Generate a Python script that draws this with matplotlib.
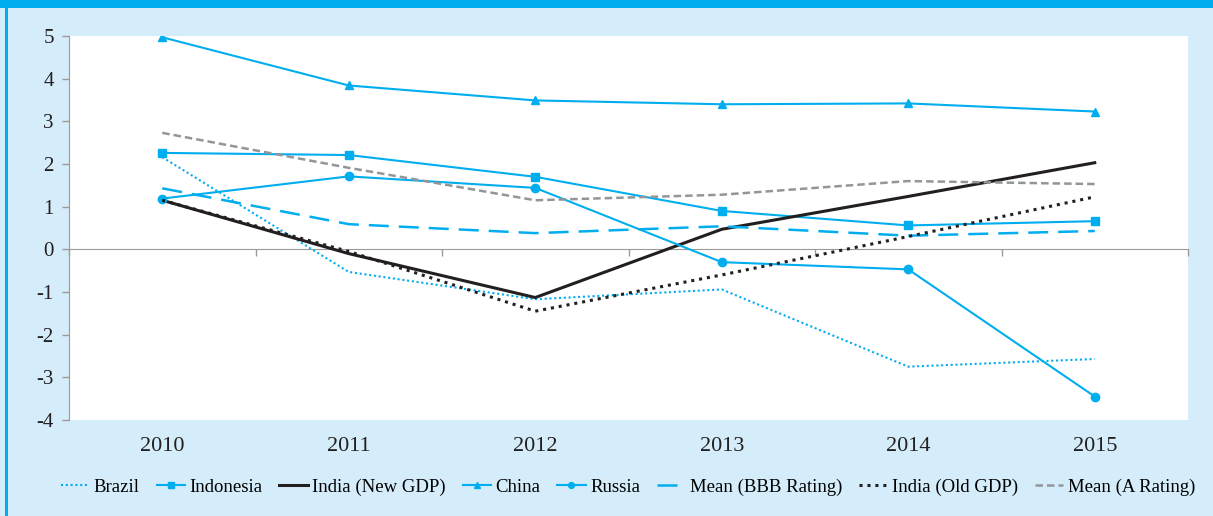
import matplotlib.pyplot as plt
from matplotlib.patches import Rectangle

plt.rcParams['font.family'] = ['Liberation Serif', 'DejaVu Serif']
plt.rcParams['axes.unicode_minus'] = False

years = ['2010', '2011', '2012', '2013', '2014', '2015']

brazil = [2.16, -0.53, -1.17, -0.94, -2.75, -2.57]
indonesia = [2.26, 2.21, 1.70, 0.90, 0.56, 0.66]
india_new = [1.15, -0.10, -1.13, 0.47, 1.24, 2.03]
china = [4.97, 3.84, 3.49, 3.40, 3.42, 3.23]
russia = [1.19, 1.71, 1.44, -0.30, -0.47, -3.45]
mean_bbb = [1.43, 0.59, 0.38, 0.54, 0.32, 0.43]
india_old = [1.15, -0.05, -1.45, -0.60, 0.30, 1.23]
mean_a = [2.73, 1.91, 1.15, 1.28, 1.60, 1.53]

blue = '#00aeef'
black = '#231f20'
gray = '#939598'
bg = '#d5edfa'

fig = plt.figure(figsize=(12.13, 5.16), dpi=100, facecolor=bg)
ax = fig.add_axes([69 / 1213, 1 - 420 / 516, 1119 / 1213, 384 / 516])
ax.set_facecolor('white')

# frame decorations of the box
fig.patches.append(Rectangle((0, 1 - 8 / 516), 1, 8 / 516, transform=fig.transFigure,
                             facecolor=blue, edgecolor='none'))
fig.patches.append(Rectangle((5 / 1213, 0), 3 / 1213, 1 - 8 / 516, transform=fig.transFigure,
                             facecolor=blue, edgecolor='none'))

x = list(range(len(years)))

ax.plot(x, brazil, color=blue, lw=1.5, linestyle=(0, (1, 1.3)), label='Brazil')
ax.plot(x, indonesia, color=blue, lw=1.5, marker='s', ms=6, label='Indonesia')
ax.plot(x, india_new, color=black, lw=2.2, label='India (New GDP)')
ax.plot(x, china, color=blue, lw=1.5, marker='^', ms=6, label='China')
ax.plot(x, russia, color=blue, lw=1.5, marker='o', ms=6, label='Russia')
ax.plot(x, mean_bbb, color=blue, lw=1.8, linestyle=(0, (8, 4)), label='Mean (BBB Rating)')
ax.plot(x, india_old, color=black, lw=2.2, linestyle=(0, (1, 1.6)), label='India (Old GDP)')
ax.plot(x, mean_a, color=gray, lw=1.8, linestyle=(0, (3, 1.6)), label='Mean (A Rating)')

ax.set_xlim(-0.5, 5.5)
ax.set_ylim(-4, 5)
ax.set_yticks(range(-4, 6))

for s in ['top', 'right', 'bottom']:
    ax.spines[s].set_visible(False)
ax.spines['left'].set_color('#9a9a9a')
ax.tick_params(axis='y', colors='#9a9a9a', length=5, width=1, labelcolor=black,
               labelsize=15, pad=6)
ax.set_xticks(x)
ax.set_xticklabels(years)
ax.tick_params(axis='x', length=0, labelsize=16, labelcolor=black, pad=12)

# zero line with category ticks
sec = ax.secondary_xaxis(0, transform=ax.transData)
sec.spines['bottom'].set_color('#9a9a9a')
sec.set_xticks([i + 0.5 for i in range(-1, 6)])
sec.set_xticklabels([])
sec.tick_params(axis='x', colors='#9a9a9a', length=5, width=1)

ax.legend(loc='center', bbox_to_anchor=(628 / 1213, 1 - 487 / 516),
          bbox_transform=fig.transFigure, ncol=8, frameon=False, fontsize=13.5,
          handlelength=1.5, handletextpad=0.25, columnspacing=0.9, borderpad=0,
          markerscale=0.7)

fig.savefig('out.png', dpi=100, facecolor=bg)
